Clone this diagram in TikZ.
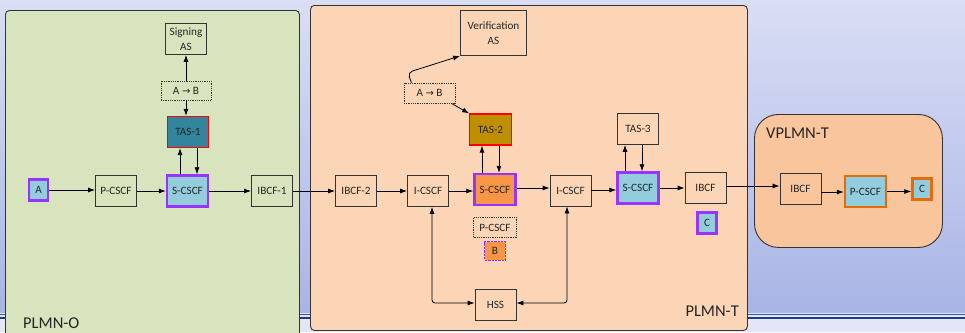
\documentclass[tikz,border=0pt]{standalone}
\usepackage{fontspec}
\setmainfont{Carlito}
\newfontfamily\arrowfont{DejaVu Sans}
\usetikzlibrary{positioning,arrows.meta}
\definecolor{bgtop}{HTML}{DADEF4}
\definecolor{bgbot}{HTML}{A8B4E6}
\definecolor{bgfoot}{HTML}{E2E6F6}
\definecolor{rulea}{HTML}{2A5AA8}
\definecolor{ruleb}{HTML}{1F3C80}
\definecolor{zoneO}{HTML}{D7E4BD}
\definecolor{zoneT}{HTML}{FBD5B5}
\definecolor{zoneV}{HTML}{F9C59C}
\definecolor{ueblue}{HTML}{93CDDD}
\definecolor{uepurple}{HTML}{9933FF}
\definecolor{tasteal}{HTML}{31849B}
\definecolor{tasgold}{HTML}{BF8F00}
\definecolor{sorange}{HTML}{F79646}
\definecolor{vorange}{HTML}{E36C0A}
\definecolor{edge}{HTML}{333333}
\definecolor{ink}{HTML}{262626}
\newcommand{\abarrow}{{\arrowfont\fontsize{10}{12}\selectfont →}}
\tikzset{
  zone/.style={draw=edge, line width=0.9pt, rounded corners=4pt},
  zonelabel/.style={font=\fontsize{16.5}{18}\selectfont, text=ink, inner sep=0pt},
  fbox/.style={draw=edge, line width=0.8pt, minimum width=41pt, minimum height=31pt, align=center, inner sep=1pt, text=ink, font=\fontsize{11.2}{15}\selectfont},
  ue/.style={fbox, fill=ueblue, draw=uepurple, line width=2.4pt, minimum width=19pt, minimum height=21pt},
  scscf/.style={fbox, draw=uepurple, line width=2.4pt},
  tasbox/.style={fbox, draw=red, line width=1.2pt, minimum width=41.5pt},
  dotbox/.style={fbox, densely dotted, minimum width=50pt, minimum height=19pt},
  flowarrow/.style={-{Latex[length=7pt,width=5pt]}, line width=0.8pt},
  hssarrow/.style={{Latex[length=7pt,width=5pt]}-{Latex[length=7pt,width=5pt]}, line width=0.8pt, rounded corners=3pt}
}
\begin{document}
\begin{tikzpicture}[x=1pt, y=-1pt]
  \useasboundingbox (0,0) rectangle (965,332);
  % slide background
  \shade[top color=bgtop, bottom color=bgbot] (0,0) rectangle (965,313);
  \fill[bgfoot] (0,313) rectangle (965,332);
  \draw[rulea, line width=1.4pt] (0,314.3) -- (965,314.3);
  \draw[ruleb, line width=2.2pt] (0,317.6) -- (965,317.6);

  % networks
  \node[zone, fill=zoneO, minimum width=294pt, minimum height=340pt, anchor=north west] (plmnO) at (5,10) {};
  \node[zone, fill=zoneT, minimum width=437pt, minimum height=325pt, anchor=north west] (plmnT) at (310,5) {};
  \node[zone, fill=zoneV, rounded corners=24pt, minimum width=188pt, minimum height=133pt, anchor=north west] (vplmnT) at (754,114) {};
  \node[zonelabel, anchor=west] (labO) at (23,323.5) {PLMN-O};
  \node[zonelabel, anchor=east] (labT) at (739,311.5) {PLMN-T};
  \node[zonelabel, anchor=west] (labV) at (766,133.5) {VPLMN-T};

  % originating side
  \node[ue] (ueA) at (38.5,190) {A};
  \node[fbox] (pcscfO) at (116,191) {P-CSCF};
  \node[scscf, fill=ueblue] (scscfO) at (187.5,191) {S-CSCF};
  \node[fbox] (ibcf1) at (272,191) {IBCF-1};
  \node[tasbox, fill=tasteal] (tas1) at (188,132) {TAS-1};
  \node[dotbox] (signAB) at (186,90.5) {A \abarrow{} B};
  \node[fbox] (signAS) at (186,39) {Signing\\AS};

  % terminating side
  \node[fbox] (ibcf2) at (356,191) {IBCF-2};
  \node[fbox] (icscf1) at (428,191) {I-CSCF};
  \node[scscf, fill=sorange] (scscfT) at (495,189.5) {S-CSCF};
  \node[tasbox, fill=tasgold] (tas2) at (490.5,129.5) {TAS-2};
  \node[dotbox, minimum width=51pt, minimum height=20pt] (verAB) at (429.5,93) {A \abarrow{} B};
  \node[fbox, minimum width=66pt, minimum height=45pt] (verAS) at (493.5,33) {Verification\\AS};
  \node[fbox] (icscf2) at (570.5,190.5) {I-CSCF};
  \node[scscf, fill=ueblue] (scscfT2) at (638,188) {S-CSCF};
  \node[fbox] (tas3) at (638,129) {TAS-3};
  \node[fbox] (ibcf3) at (705.5,188) {IBCF};
  \node[ue] (ueC) at (707,223) {C};
  \node[dotbox, minimum width=43pt, minimum height=20pt] (pcscfB) at (495,227.5) {P-CSCF};
  \node[ue, fill=sorange, densely dotted, line width=1.3pt, minimum width=20.5pt, minimum height=18.5pt] (ueB) at (495,251) {B};
  \node[fbox] (hss) at (495.5,305) {HSS};

  % visited network
  \node[fbox] (ibcfV) at (800.5,189) {IBCF};
  \node[scscf, draw=vorange, fill=ueblue] (pcscfV) at (865.5,191.5) {P-CSCF};
  \node[ue, draw=vorange] (ueCV) at (922,189) {C};

  % main flow
  \draw[flowarrow] (ueA.east) -- (ueA.east -| pcscfO.west);
  \draw[flowarrow] (pcscfO.east) -- (pcscfO.east -| scscfO.west);
  \draw[flowarrow] (scscfO.east) -- (scscfO.east -| ibcf1.west);
  \draw[flowarrow] (ibcf1.east) -- (ibcf1.east -| ibcf2.west);
  \draw[flowarrow] (ibcf2.east) -- (ibcf2.east -| icscf1.west);
  \draw[flowarrow] (icscf1.east) -- (icscf1.east -| scscfT.west);
  \draw[flowarrow] ([yshift=1.5pt]scscfT.east) -- ([yshift=1.5pt]scscfT.east -| icscf2.west);
  \draw[flowarrow] ([yshift=0.5pt]icscf2.east) -- ([yshift=0.5pt]icscf2.east -| scscfT2.west);
  \draw[flowarrow] (scscfT2.east) -- (scscfT2.east -| ibcf3.west);
  \draw[flowarrow] ([yshift=2pt]ibcf3.east) -- ([yshift=2pt]ibcf3.east -| ibcfV.west);
  \draw[flowarrow] ([yshift=-3pt]ibcfV.east) -- ([yshift=-3pt]ibcfV.east -| pcscfV.west);
  \draw[flowarrow] (pcscfV.east) -- (pcscfV.east -| ueCV.west);

  % application servers
  \draw[flowarrow] (signAB.north) -- (signAS.south);
  \draw[flowarrow] (signAB.south) -- (signAB.south |- tas1.north);
  \draw[flowarrow] ([xshift=-7.5pt]scscfO.north) -- ([xshift=-7.5pt]scscfO.north |- tas1.south);
  \draw[flowarrow] ([xshift=9.5pt]scscfO.north |- tas1.south) -- ([xshift=9.5pt]scscfO.north);
  \draw[flowarrow, rounded corners=5pt] ([xshift=-18pt]verAB.north) -- ++(-4,-10) -- (verAS.south west);
  \draw[flowarrow] ([xshift=-4pt]verAB.south east) -- (tas2.north west);
  \draw[flowarrow] ([xshift=-13pt]scscfT.north) -- ([xshift=-13pt]scscfT.north |- tas2.south);
  \draw[flowarrow] ([xshift=4pt]scscfT.north |- tas2.south) -- ([xshift=4pt]scscfT.north);
  \draw[flowarrow] ([xshift=-13pt]scscfT2.north) -- ([xshift=-13pt]scscfT2.north |- tas3.south);
  \draw[flowarrow] ([xshift=4pt]scscfT2.north |- tas3.south) -- ([xshift=4pt]scscfT2.north);

  % subscriber data
  \draw[hssarrow] ([xshift=4pt]icscf1.south) |- ([yshift=2pt]hss.west);
  \draw[hssarrow] ([xshift=-3.5pt]icscf2.south) |- ([yshift=2pt]hss.east);
\end{tikzpicture}
\end{document}
